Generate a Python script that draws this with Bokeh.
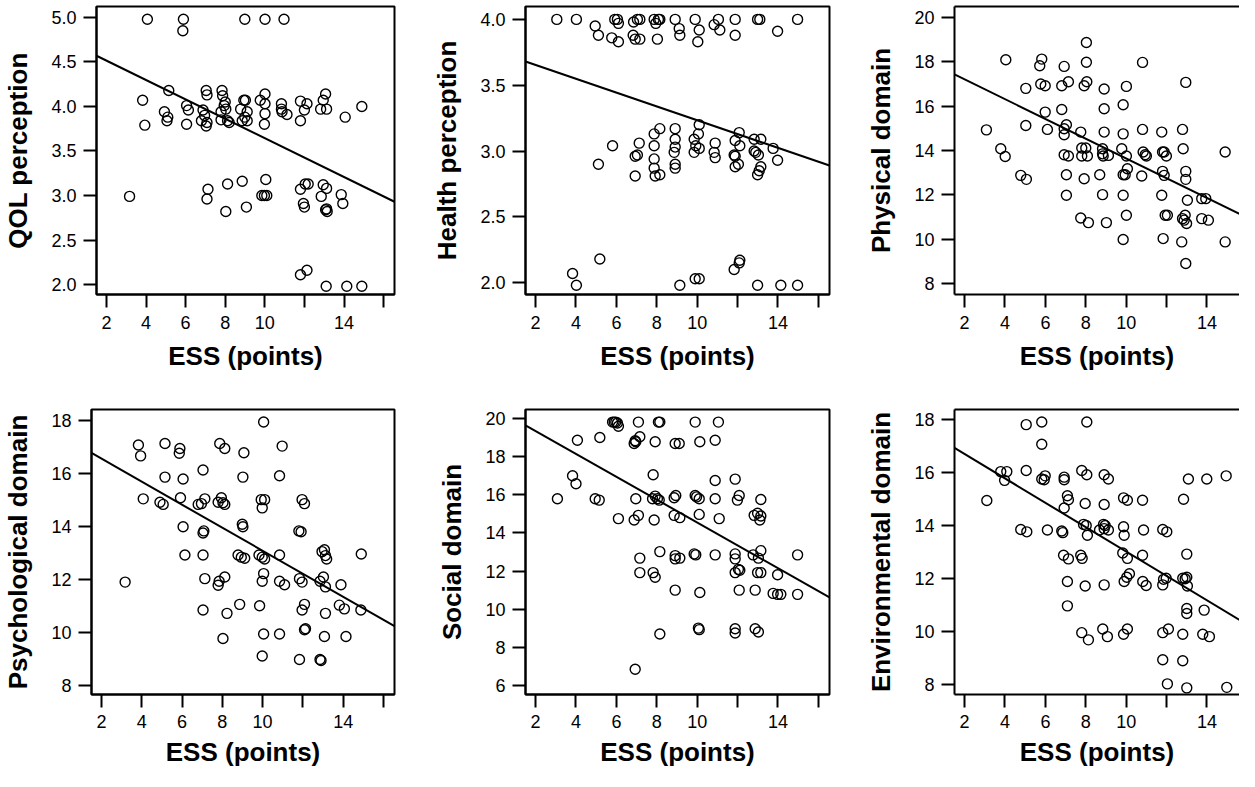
from bokeh.plotting import figure
from bokeh.models import FixedTicker, LinearAxis, Range1d, PrintfTickFormatter
from bokeh.layouts import column, row
from bokeh.embed import file_html
from bokeh.resources import INLINE

FONT = "Liberation Sans"

# ---------------- data ----------------
x_label = "ESS (points)"
x_ticks = [2, 4, 6, 8, 10, 12, 14, 16]
x_unlabelled = [12, 16]

ess_qol = [4.07, 5.89, 5.86, 8.99, 10.01, 10.97, 5.15, 3.83, 3.94, 4.93, 5.10, 5.06, 6.05, 6.14, 6.05,
           7.04, 7.08, 6.88, 6.96, 6.80, 7.08, 7.04, 7.84, 7.87, 8.00, 7.95, 8.03, 7.79, 7.79, 8.12, 8.20,
           8.78, 8.94, 9.02, 9.11, 8.99, 8.86, 9.11, 9.77, 10.01, 10.01, 10.01, 9.98, 10.84, 10.84, 10.87,
           11.12, 11.80, 12.13, 12.00, 11.80, 13.07, 12.95, 12.82, 13.12, 14.06, 14.90, 3.17, 7.13, 7.08,
           8.12, 8.03, 8.86, 9.07, 10.05, 9.85, 9.98, 10.10, 11.80, 12.04, 12.19, 11.95, 12.00, 12.95, 13.12,
           12.85, 13.12, 13.15, 13.07, 13.86, 13.94, 11.80, 12.13, 13.10, 14.14, 14.90]
qol = [4.98, 4.98, 4.85, 4.98, 4.98, 4.98, 4.18, 4.07, 3.79, 3.94, 3.88, 3.84, 4.01, 3.96, 3.80,
       4.18, 4.13, 3.96, 3.90, 3.84, 3.82, 3.78, 4.18, 4.12, 4.05, 4.01, 3.97, 3.94, 3.85, 3.84, 3.82,
       3.97, 4.07, 4.07, 3.94, 3.88, 3.84, 3.84, 4.07, 4.14, 4.03, 3.92, 3.80, 4.03, 3.97, 3.94,
       3.91, 4.06, 4.03, 3.96, 3.84, 4.14, 4.07, 3.97, 3.97, 3.88, 4.00, 2.99, 3.07, 2.96,
       3.13, 2.82, 3.16, 2.87, 3.18, 3.00, 3.00, 3.00, 3.07, 3.13, 3.13, 2.91, 2.87, 3.12, 3.08,
       2.99, 2.85, 2.82, 2.84, 3.01, 2.91, 2.11, 2.16, 1.98, 1.98, 1.98]

ess_health = [3.05, 4.02, 4.95, 5.11, 5.77, 5.92, 6.05, 6.10, 6.10, 6.85, 6.83, 6.93, 7.04, 7.16, 7.16,
              7.87, 7.95, 8.08, 8.15, 8.03, 8.91, 9.11, 9.14, 9.90, 10.10, 10.03, 10.84, 11.05, 11.12, 11.88,
              11.88, 12.99, 13.10, 13.98, 14.97,
              5.81, 5.11, 6.93, 7.04, 7.13, 6.93, 7.87, 8.15, 7.87, 7.87, 7.87, 7.92, 8.15, 8.91, 8.91,
              8.91, 8.86, 8.91, 8.91, 10.10, 10.06, 9.85, 9.93, 10.10, 9.85, 10.89, 10.84, 10.89, 12.08,
              11.88, 12.11, 11.83, 11.88, 11.88, 12.04, 12.82, 13.15, 12.82, 12.90, 13.03, 13.15, 13.07,
              12.99, 13.76, 13.98,
              5.18, 3.83, 4.02, 9.14, 9.90, 10.10, 11.83, 12.08, 12.11, 12.99, 14.14, 14.97]
health = [4.00, 4.00, 3.95, 3.88, 3.86, 4.00, 4.00, 3.97, 3.83, 3.98, 3.88, 3.85, 4.00, 4.00, 3.85,
          4.00, 3.97, 4.00, 4.00, 3.85, 4.00, 3.93, 3.88, 4.00, 3.92, 3.83, 3.96, 4.00, 3.92, 4.00,
          3.88, 4.00, 4.00, 3.91, 4.00,
          3.04, 2.90, 2.96, 2.97, 3.06, 2.81, 3.13, 3.17, 3.04, 2.94, 2.87, 2.81, 2.82, 3.17, 3.09,
          3.03, 2.99, 2.90, 2.87, 3.20, 3.13, 3.09, 3.04, 3.02, 2.99, 3.06, 2.99, 2.95, 3.14,
          3.08, 3.04, 2.97, 2.96, 2.88, 2.90, 3.09, 3.09, 3.00, 2.99, 2.97, 2.88, 2.85,
          2.82, 3.02, 2.93,
          2.18, 2.07, 1.98, 1.98, 2.03, 2.03, 2.10, 2.15, 2.17, 1.98, 1.98, 1.98]

ess_phys = [3.08, 3.79, 4.01, 4.04, 4.78, 5.06, 5.03, 5.03, 5.72, 5.82,
            5.77, 5.99, 5.99, 6.10, 6.81, 6.81, 6.93, 7.14, 7.04, 6.93,
            6.93, 6.93, 7.14, 7.04, 7.04, 7.75, 7.80, 7.80, 8.00, 8.08,
            7.92, 7.92, 8.05, 8.03, 8.03, 7.75, 8.13, 8.91, 8.91, 8.91,
            8.83, 8.83, 8.86, 9.12, 8.69, 8.83, 9.02, 10.01, 9.85, 9.85,
            9.78, 10.01, 10.06, 9.85, 9.95, 9.85, 10.01, 9.85, 10.81, 10.81,
            10.84, 10.94, 11.00, 10.77, 11.76, 11.80, 11.88, 11.99, 11.80, 11.88,
            11.76, 11.93, 12.04, 11.83, 12.95, 12.79, 12.82, 12.95, 12.95, 13.03,
            12.75, 12.95, 12.92, 12.79, 12.87, 12.99, 13.74, 13.94, 13.74, 14.07,
            14.90, 14.90]
phys = [14.93, 14.08, 13.73, 18.09, 12.88, 12.70, 16.80, 15.13, 17.82, 18.12,
        17.00, 16.92, 15.73, 14.95, 16.92, 15.85, 17.79, 17.10, 15.16, 14.98,
        14.71, 13.81, 13.75, 12.91, 11.98, 14.83, 14.11, 13.75, 14.11, 13.75,
        12.73, 16.92, 17.10, 17.98, 18.87, 10.96, 10.75, 16.77, 15.88, 14.83,
        14.08, 13.85, 13.75, 13.78, 12.91, 12.01, 10.75, 16.89, 16.06, 14.75,
        14.08, 13.75, 13.18, 12.91, 12.91, 11.98, 11.08, 9.99, 17.97, 14.95,
        13.93, 13.81, 13.75, 12.85, 14.83, 13.93, 13.93, 13.75, 13.06, 12.88,
        11.98, 11.08, 11.08, 10.03, 17.07, 14.95, 14.08, 13.06, 12.70, 11.76,
        9.88, 8.91, 11.08, 10.93, 10.86, 10.71, 11.83, 11.83, 10.93, 10.86,
        13.93, 9.88]

ess_psych = [3.17, 3.83, 3.94, 4.07, 4.90, 5.06, 5.15, 5.15, 5.89, 5.86,
             6.05, 5.92, 6.05, 6.14, 6.80, 6.96, 7.04, 7.13, 7.08, 7.04,
             7.04, 7.13, 7.04, 7.87, 8.12, 7.79, 7.95, 8.03, 8.12, 7.79,
             7.84, 8.12, 8.03, 8.23, 8.86, 9.02, 9.07, 8.99, 9.02, 8.78,
             8.94, 9.11, 9.82, 9.93, 10.10, 9.98, 10.05, 9.98, 10.10, 10.84,
             10.05, 9.98, 10.84, 11.09, 9.85, 10.05, 10.84, 9.98, 10.97, 10.84,
             11.96, 12.08, 11.80, 11.91, 11.83, 11.96, 12.08, 11.96, 12.13, 12.08,
             11.83, 12.85, 12.90, 12.95, 13.07, 13.12, 13.18, 12.85, 13.02, 13.12,
             13.89, 13.12, 13.07, 13.81, 14.06, 14.88, 14.14, 14.90]
psych = [11.90, 17.07, 16.66, 15.04, 14.91, 14.83, 17.13, 15.86, 16.94, 16.76,
         15.79, 15.08, 13.99, 12.92, 14.83, 14.86, 16.13, 15.04, 13.83, 13.75,
         12.92, 12.03, 10.85, 17.13, 16.94, 14.91, 15.08, 14.89, 14.83, 11.78,
         11.93, 12.09, 9.77, 10.72, 11.06, 15.86, 16.78, 14.08, 13.99, 12.92,
         12.84, 12.80, 12.92, 15.01, 15.01, 14.70, 17.94, 12.84, 12.77, 12.92,
         12.22, 11.93, 11.93, 11.80, 11.01, 9.94, 9.94, 9.11, 17.03, 15.91,
         15.01, 14.86, 13.83, 13.80, 12.03, 11.90, 11.06, 10.85, 10.14, 10.10,
         8.98, 8.98, 8.94, 13.05, 13.12, 12.90, 12.77, 11.93, 12.09, 11.72,
         11.80, 10.72, 9.85, 11.03, 10.89, 10.85, 9.85, 12.96]

ess_social = [3.08, 4.07, 3.83, 4.00, 4.95, 5.15, 5.18, 5.81, 5.89, 5.97,
              6.05, 6.10, 6.93, 6.88, 6.96, 7.16, 7.09, 6.96, 6.10, 6.88,
              7.09, 7.87, 7.82, 7.79, 7.92, 8.03, 8.12, 7.92, 8.08, 8.15,
              8.91, 9.11, 8.86, 8.94, 8.86, 9.14, 9.90, 9.90, 9.97, 10.10,
              10.13, 10.10, 10.89, 11.05, 10.89, 10.89, 11.09, 11.88, 12.08, 11.99,
              12.82, 12.99, 13.15, 13.10, 13.15, 7.16, 7.16, 7.82, 7.92, 8.15,
              8.91, 8.91, 9.14, 9.85, 9.93, 10.89, 11.88, 11.88, 12.77, 13.03,
              13.15, 11.88, 12.04, 12.11, 12.99, 13.15, 13.98, 14.97, 8.91, 10.13,
              12.08, 12.87, 13.76, 13.98, 14.14, 14.97, 8.15, 10.06, 10.10, 11.88,
              11.88, 12.87, 13.03, 6.93]
social = [15.79, 18.86, 17.00, 16.58, 15.79, 15.72, 19.00, 19.81, 19.81, 19.81,
          19.76, 19.59, 18.83, 18.69, 18.78, 19.04, 19.81, 15.79, 14.75, 14.68,
          14.92, 14.68, 17.05, 15.79, 15.93, 15.79, 15.72, 18.78, 19.81, 19.81,
          18.69, 18.69, 15.84, 15.96, 14.92, 14.80, 19.81, 15.96, 15.89, 15.79,
          18.78, 14.97, 18.86, 19.81, 16.75, 15.79, 14.75, 16.82, 15.96, 15.72,
          14.92, 15.03, 14.89, 14.68, 15.75, 12.68, 11.92, 11.92, 11.68, 13.02,
          12.81, 12.64, 12.68, 12.90, 12.85, 12.85, 12.90, 12.64, 12.85, 12.68,
          13.07, 11.92, 12.09, 12.04, 11.92, 11.92, 11.81, 12.85, 11.00, 10.88,
          11.00, 11.00, 10.83, 10.78, 10.78, 10.78, 8.70, 9.01, 8.93, 8.98,
          8.75, 8.98, 8.81, 6.85]

ess_env = [3.10, 3.79, 4.09, 3.98, 5.05, 5.82, 5.82, 5.05, 5.82, 5.99,
           5.94, 4.78, 5.08, 6.10, 6.81, 6.86, 6.93, 6.93, 7.09, 7.14,
           6.93, 8.05, 7.80, 8.05, 7.97, 7.89, 8.02, 8.08, 6.90, 7.14,
           7.75, 7.82, 7.09, 7.97, 7.09, 8.68, 8.88, 8.96, 8.91, 9.12,
           8.91, 9.12, 8.91, 9.87, 10.06, 9.87, 9.90, 9.83, 10.06, 10.81,
           10.86, 10.81, 10.16, 10.03, 9.90, 10.82, 10.99, 8.91, 11.81, 12.01,
           11.85, 11.98, 11.81, 12.80, 12.92, 13.00, 13.03, 13.00, 12.84, 13.08,
           13.99, 14.95, 13.00, 13.00, 13.86, 7.80, 8.13, 8.84, 9.07, 9.87,
           10.06, 11.81, 12.09, 12.80, 13.79, 14.12, 11.81, 12.80, 12.04, 13.00,
           14.98]
env = [14.94, 16.03, 16.03, 15.70, 17.80, 17.90, 17.06, 16.07, 15.75, 15.87,
       15.72, 13.85, 13.76, 13.83, 13.79, 13.73, 15.82, 15.72, 15.12, 14.97,
       14.66, 17.90, 16.07, 15.91, 14.83, 14.04, 14.00, 13.63, 12.88, 12.74,
       12.88, 12.76, 11.89, 11.72, 10.97, 13.83, 14.04, 14.00, 13.88, 13.83,
       15.91, 15.75, 14.79, 15.04, 14.95, 13.95, 13.63, 12.96, 12.76, 14.95,
       13.83, 12.88, 12.18, 12.05, 11.89, 11.89, 11.74, 11.76, 13.85, 13.76,
       11.97, 12.01, 11.76, 12.01, 11.99, 12.05, 11.72, 12.92, 14.99, 15.75,
       15.75, 15.87, 10.87, 10.68, 10.81, 9.96, 9.69, 10.10, 9.81, 9.90,
       10.10, 9.96, 10.10, 9.90, 9.90, 9.81, 8.94, 8.90, 8.03, 7.88,
       7.90]

# fitted regression lines (values at the two ends of the ESS axis)
fit_ess = [1.5, 16.55]
fit_qol = [4.57, 2.93]
fit_health = [3.68, 2.89]
fit_phys = [17.43, 10.72]
fit_psych = [16.77, 10.24]
fit_social = [19.64, 10.62]
fit_env = [16.92, 10.01]

ticks_qol = [2.0, 2.5, 3.0, 3.5, 4.0, 4.5, 5.0]
ticks_health = [2.0, 2.5, 3.0, 3.5, 4.0]
ticks_phys = [8, 10, 12, 14, 16, 18, 20]
ticks_psych = [8, 10, 12, 14, 16, 18]
ticks_social = [6, 8, 10, 12, 14, 16, 18, 20]
ticks_env = [8, 10, 12, 14, 16, 18]

panels = [
    (ess_qol, qol, fit_qol, "QOL perception", (1.888, 5.123), ticks_qol, "%.1f"),
    (ess_health, health, fit_health, "Health perception", (1.91, 4.098), ticks_health, "%.1f"),
    (ess_phys, phys, fit_phys, "Physical domain", (7.51, 20.49), ticks_phys, "%d"),
    (ess_psych, psych, fit_psych, "Psychological domain", (7.66, 18.41), ticks_psych, "%d"),
    (ess_social, social, fit_social, "Social domain", (5.53, 20.47), ticks_social, "%d"),
    (ess_env, env, fit_env, "Environmental domain", (7.63, 18.37), ticks_env, "%d"),
]

# layout geometry: (fig width, border left, border right, x end, full box)
cols = [(404, 90, 10, 16.55, True), (435, 121, 10, 16.55, True), (400, 115, 0, 15.61, False)]
# (fig height, border top, border bottom, tick-label standoff, axis-label standoff)
rows_geo = [(388, 6, 94, 8, 9), (382, 21, 76, 7, 6)]


def style_axis(ax, label_standoff, title_standoff):
    ax.axis_line_color = "black"
    ax.axis_line_width = 2
    ax.major_tick_line_color = "black"
    ax.major_tick_line_width = 2
    ax.major_tick_in = 0
    ax.major_tick_out = 13
    ax.minor_tick_in = 0
    ax.minor_tick_out = 0
    ax.major_label_text_font = FONT
    ax.major_label_text_font_size = "18px"
    ax.major_label_text_color = "black"
    ax.major_label_standoff = label_standoff
    ax.axis_label_text_font = FONT
    ax.axis_label_text_font_size = "26px"
    ax.axis_label_text_font_style = "bold"
    ax.axis_label_text_color = "black"
    ax.axis_label_standoff = title_standoff


figs = []
for i, (xs, ys, fit, ylab, yr, yt, fmt) in enumerate(panels):
    r, c = divmod(i, 3)
    w, bl, br, xend, box = cols[c]
    h, bt, bb, lso, tso = rows_geo[r]
    p = figure(width=w, height=h, x_range=Range1d(1.5, xend), y_range=Range1d(*yr),
               output_backend="svg", toolbar_location=None,
               min_border_left=bl, min_border_right=br, min_border_top=bt, min_border_bottom=bb)
    p.xgrid.visible = False
    p.ygrid.visible = False
    p.background_fill_color = "white"
    p.border_fill_color = "white"

    xa = p.below[0]
    xa.ticker = FixedTicker(ticks=x_ticks)
    xa.major_label_overrides = {t: "" for t in x_unlabelled}
    xa.axis_label = x_label
    style_axis(xa, lso, tso)

    ya = p.left[0]
    ya.ticker = FixedTicker(ticks=yt)
    ya.formatter = PrintfTickFormatter(format=fmt)
    ya.axis_label = ylab
    style_axis(ya, 7, 15)

    if box:
        p.outline_line_color = "black"
        p.outline_line_width = 2
    else:
        p.outline_line_color = None
        top = LinearAxis(ticker=FixedTicker(ticks=[]))
        top.axis_line_color = "black"
        top.axis_line_width = 2
        top.major_tick_out = 0
        top.major_tick_in = 0
        top.minor_tick_out = 0
        top.minor_tick_in = 0
        top.major_label_text_font_size = "0px"
        top.major_label_standoff = 0
        top.axis_label = None
        p.add_layout(top, "above")

    p.line(fit_ess, fit, line_color="black", line_width=2)
    p.scatter(xs, ys, marker="circle", size=10, fill_color=None,
              line_color="black", line_width=1.4)
    figs.append(p)

layout = column(row(*figs[:3]), row(*figs[3:]))
open("out.html", "w").write(file_html(layout, INLINE))
